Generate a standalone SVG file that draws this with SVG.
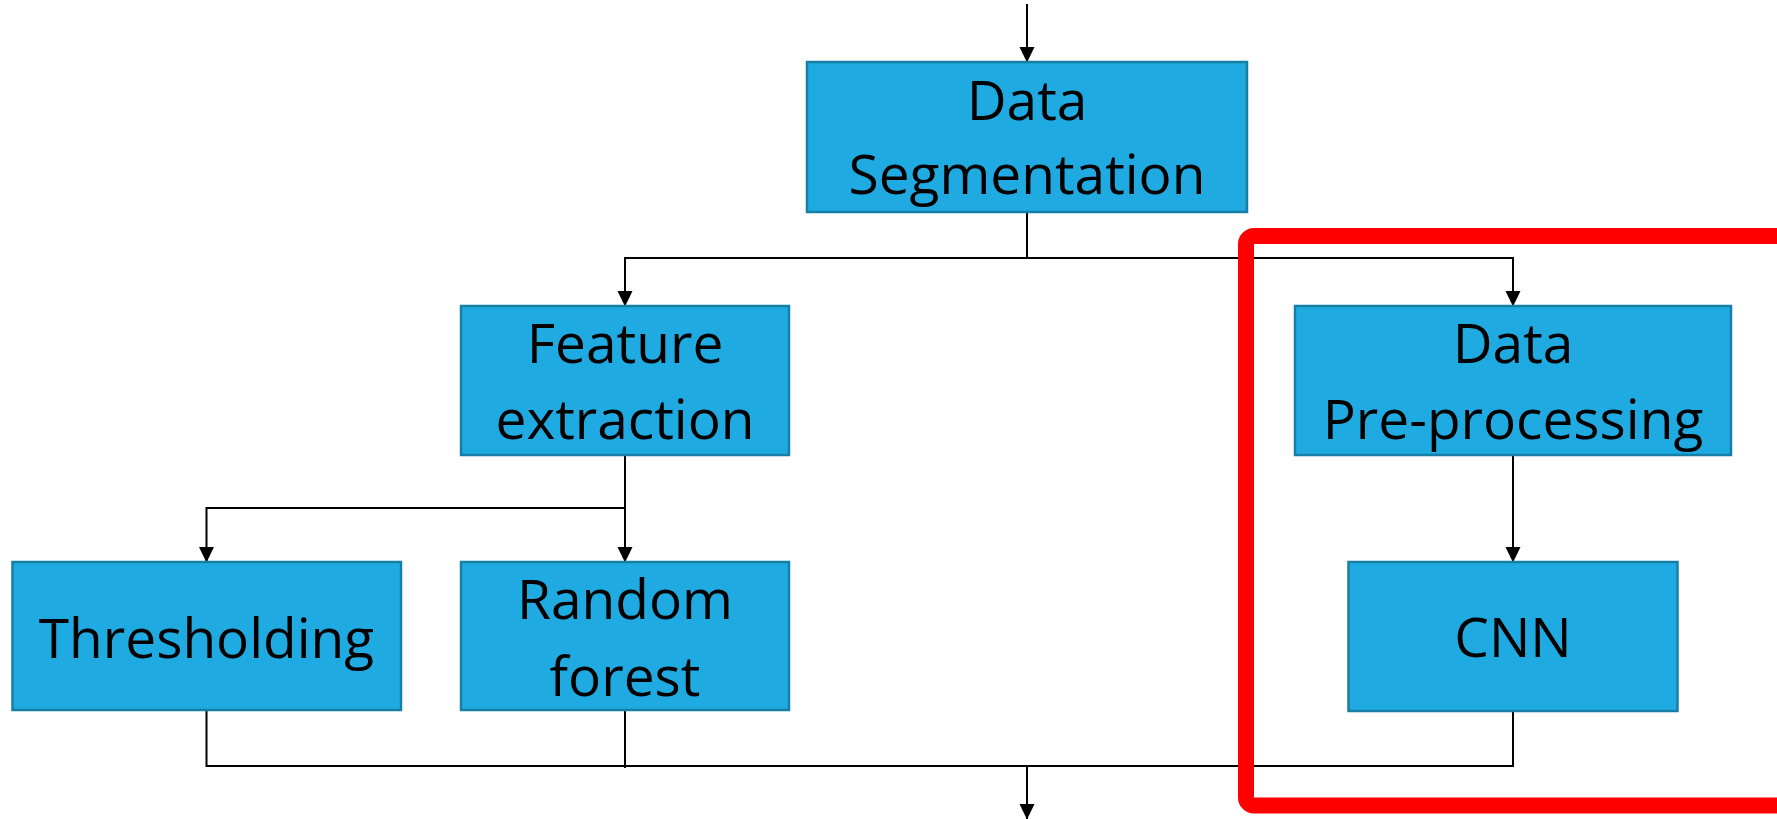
<svg xmlns="http://www.w3.org/2000/svg" width="1777" height="819" viewBox="0 0 1777 819">
  <style>
    .box { fill: #1fabe1; stroke: #177fa6; stroke-width: 2.5; }
    .lbl { font-family: "Open Sans", "Noto Sans", sans-serif; font-size: 55px; fill: #000; text-anchor: middle; }
    .conn { fill: none; stroke: #000; stroke-width: 2; }
    .hl { fill: none; stroke: #ff0000; stroke-width: 16; }
  </style>
  <defs>
    <marker id="arrd" markerUnits="userSpaceOnUse" markerWidth="16" markerHeight="16" viewBox="0 0 16 16" refX="15" refY="8" orient="auto">
      <path d="M0,0.5 L15.5,8 L0,15.5 Z" fill="#000"/>
    </marker>
  </defs>
  <rect width="1777" height="819" fill="#ffffff"/>

  <g id="connectors">
    <line class="conn" x1="1027" y1="4" x2="1027" y2="62" marker-end="url(#arrd)"/>
    <polyline class="conn" points="1027,212 1027,258"/>
    <polyline class="conn" points="1027,258 625,258 625,306" marker-end="url(#arrd)"/>
    <polyline class="conn" points="1027,258 1513,258 1513,306" marker-end="url(#arrd)"/>
    <polyline class="conn" points="625,455 625,508 206.5,508 206.5,562" marker-end="url(#arrd)"/>
    <line class="conn" x1="625" y1="508" x2="625" y2="562" marker-end="url(#arrd)"/>
    <line class="conn" x1="1513" y1="455" x2="1513" y2="562" marker-end="url(#arrd)"/>
    <polyline class="conn" points="206.5,710 206.5,766 1513,766 1513,711"/>
    <line class="conn" x1="625" y1="710" x2="625" y2="768"/>
    <line class="conn" x1="1027" y1="766" x2="1027" y2="819" marker-end="url(#arrd)"/>
  </g>

  <g id="data-segmentation">
    <rect class="box" x="807" y="62" width="440" height="150"/>
    <text class="lbl" x="1027" y="120">Data</text>
    <text class="lbl" x="1027" y="194">Segmentation</text>
  </g>

  <g id="feature-extraction">
    <rect class="box" x="461" y="306" width="328" height="149"/>
    <text class="lbl" x="625" y="363">Feature</text>
    <text class="lbl" x="625" y="439">extraction</text>
  </g>

  <g id="data-preprocessing">
    <rect class="box" x="1295" y="306" width="436" height="149"/>
    <text class="lbl" x="1513" y="363">Data</text>
    <text class="lbl" x="1513" y="439">Pre-processing</text>
  </g>

  <g id="thresholding">
    <rect class="box" x="12.5" y="562" width="388.5" height="148"/>
    <text class="lbl" x="206.5" y="658">Thresholding</text>
  </g>

  <g id="random-forest">
    <rect class="box" x="461" y="562" width="328" height="148"/>
    <text class="lbl" x="625" y="619">Random</text>
    <text class="lbl" x="625" y="696">forest</text>
  </g>

  <g id="cnn">
    <rect class="box" x="1348.5" y="562" width="329" height="149"/>
    <text class="lbl" x="1513" y="657">CNN</text>
  </g>

  <g id="highlight">
    <rect class="hl" x="1246" y="236" width="640" height="569.5" rx="8" ry="8"/>
  </g>
</svg>
